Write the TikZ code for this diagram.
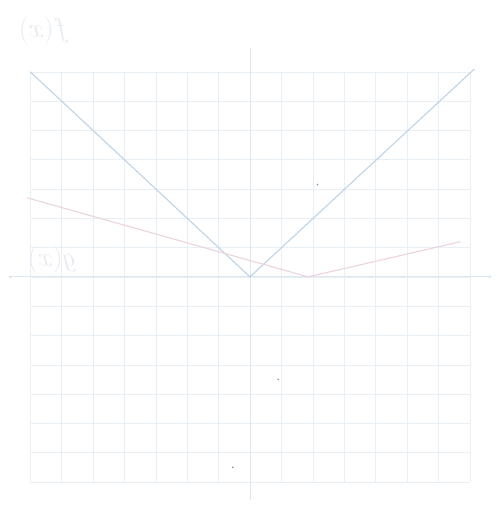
\documentclass[tikz,border=0pt]{standalone}
\usepackage{graphicx}
\usetikzlibrary{calc}

\begin{document}
\begin{tikzpicture}[x=1cm, y=0.933cm]

    % Define the axis limit
    \def\axisLimit{7}

    \definecolor{gridColour}{HTML}{E8EFF5}
    \definecolor{axisColour}{HTML}{DCE7F0}
    \definecolor{fColour}{HTML}{BFD3E6}
    \definecolor{gColour}{HTML}{EDD3DE}
    \definecolor{labelColour}{HTML}{E6EAF0}
    \definecolor{speckColour}{HTML}{8A8F96}

    % Fix the page size
    \useasboundingbox (-7.96,-7.82) rectangle (7.90,9.45);

    % Draw grid
    \draw[step=1,gridColour,thin] (-\axisLimit,-\axisLimit) grid (\axisLimit,\axisLimit);

    % Draw axes
    \draw[axisColour,thick] (-7.64,0) -- (7.64,0);
    \draw[axisColour,thick] (0,-7.6) -- (0,7.8);
    \fill[axisColour] (-7.64,0) circle (1.5pt) (7.64,0) circle (1.5pt);

    % Define the points of the two graphs
    \coordinate (fL) at (-7,7);
    \coordinate (O) at (0,0);
    \coordinate (fR) at (7.15,7.1);
    \coordinate (gL) at (-7.1,2.7);
    \coordinate (gV) at (1.85,0);
    \coordinate (gR) at (6.7,1.2);

    % Draw the graphs
    \draw[fColour, line width=1pt] (fL) -- (O) -- (fR);
    \draw[gColour, line width=1pt] (gL) -- (gV) -- (gR);

    % Label the graphs
    \node[labelColour, font=\fontsize{40}{40}\selectfont] (fLabel) at (-6.55,8.4) {\reflectbox{$f(x)$}};
    \node[labelColour, font=\fontsize{30}{30}\selectfont] (gLabel) at (-6.3,0.6) {\reflectbox{$g(x)$}};

    % Specks on the paper
    \foreach \p in {(2.15,3.15),(0.9,-3.5),(-0.55,-6.5)}
        \fill[speckColour] \p circle (0.8pt);

\end{tikzpicture}
\end{document}
